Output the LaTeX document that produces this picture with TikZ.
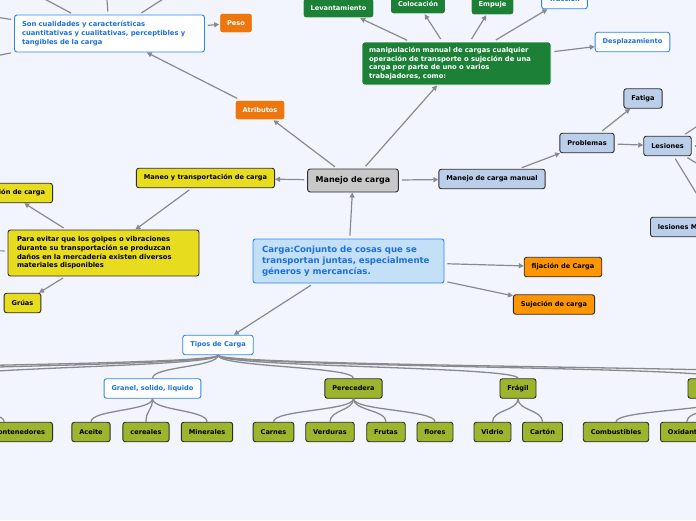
\documentclass[tikz,border=0pt]{standalone}
\usepackage{fontspec}
\setmainfont{DejaVu Sans}
\usetikzlibrary{arrows.meta}

\definecolor{bg}{RGB}{243,245,254}
\definecolor{edge}{RGB}{138,138,142}
\definecolor{frame}{RGB}{45,45,45}
\definecolor{bluetxt}{RGB}{28,112,222}
\definecolor{blueframe}{RGB}{45,135,235}
\definecolor{cargafill}{RGB}{196,224,246}
\definecolor{attrorange}{RGB}{238,118,14}
\definecolor{fixorange}{RGB}{255,150,0}
\definecolor{movegreen}{RGB}{28,128,54}
\definecolor{yellowfill}{RGB}{232,220,30}
\definecolor{lightblue}{RGB}{188,207,234}
\definecolor{greyfill}{RGB}{200,200,200}
\definecolor{olive}{RGB}{155,181,44}

\tikzset{
  box/.style={rounded corners=2.5pt, inner xsep=7.5pt, inner ysep=2pt, minimum height=19.5pt,
    line width=0.9pt, font=\bfseries\fontsize{6.6}{8.5}\selectfont},
  darkbox/.style={box, draw=frame, text=black},
  whitebox/.style={box, draw=blueframe, fill=white, text=bluetxt},
  attrbox/.style={box, draw=white, fill=attrorange, text=white},
  fixbox/.style={darkbox, fill=fixorange},
  movebox/.style={box, draw=white, fill=movegreen, text=white},
  yellowbox/.style={darkbox, fill=yellowfill},
  bluebox/.style={darkbox, fill=lightblue},
  olivebox/.style={darkbox, fill=olive},
  longtext/.style={align=left, inner ysep=1pt, font=\bfseries\fontsize{6.8}{8.6}\selectfont},
  link/.style={draw=edge, line width=1.2pt, -{Triangle[length=5pt,width=5pt]}, shorten <=3pt},
  branch/.style={draw=edge, line width=1.3pt},
}

\begin{document}
\begin{tikzpicture}[x=1pt, y=-1pt]

	\fill[bg] (0,0) rectangle (696,520);
	\useasboundingbox (0,0) rectangle (696,520);
	\clip (0,0) rectangle (696,520);

	% Centre
	\node[darkbox, fill=greyfill, inner xsep=8pt, minimum height=23pt, font=\bfseries\fontsize{8}{9}\selectfont] (manejo) at (353,180.5) {Manejo de carga};
	\node[box, draw=blueframe, fill=cargafill, text=bluetxt, longtext, text width=173pt, inner xsep=9pt, minimum height=44pt, font=\bfseries\fontsize{8.6}{11}\selectfont] (carga) at (348.5,261)
		{Carga:Conjunto de cosas que se\\ transportan juntas, especialmente\\ géneros y mercancías.};

	% Atributos
	\node[attrbox] (atributos) at (260,110) {Atributos};
	\node[whitebox, longtext, text width=175pt, minimum height=37pt] (cualidades) at (109.5,33.5)
		{Son cualidades y características\\ cuantitativas y cualitativas, perceptibles y\\ tangibles de la carga};
	\node[attrbox] (peso) at (236,23) {Peso};
	\coordinate (attrA) at (-10,-30);
	\coordinate (attrB) at (104,-40);
	\coordinate (attrC) at (188,-17);
	\coordinate (attrD) at (-40,12);
	\coordinate (attrE) at (-40,63);

	% Manipulacion manual
	\node[movebox, longtext, text width=175pt, inner xsep=7pt, minimum height=43pt] (manip) at (456.5,63.5)
		{manipulación manual de cargas cualquier\\ operación de transporte o sujeción de una\\ carga por parte de uno o varios\\ trabajadores, como:};
	\node[movebox] (levant) at (338.5,8) {Levantamiento};
	\node[movebox] (coloc) at (418,4) {Colocación};
	\node[movebox] (empuje) at (492.5,5) {Empuje};
	\node[whitebox] (traccion) at (564.5,-1) {Tracción};
	\node[whitebox] (despl) at (632.5,42) {Desplazamiento};

	% Manejo de carga manual
	\node[bluebox] (manual) at (492,179) {Manejo de carga manual};
	\node[bluebox] (problemas) at (587,143) {Problemas};
	\node[bluebox] (fatiga) at (643,98.5) {Fatiga};
	\node[bluebox] (lesiones) at (667.5,146) {Lesiones};
	\node[bluebox, anchor=west] (lesmusc) at (650,227) {lesiones Musculares};
	\coordinate (lesA) at (720,111);
	\coordinate (lesB) at (730,146);
	\coordinate (lesC) at (720,177);
	\coordinate (lesD) at (712,219);

	% Maneo y transportacion
	\node[yellowbox] (maneo) at (205.5,178) {Maneo y transportación de carga};
	\node[yellowbox, longtext, text width=173pt, inner xsep=9pt, minimum height=46pt] (evitar) at (103.5,253)
		{Para evitar que los golpes o vibraciones\\ durante su transportación se produzcan\\ daños en la mercadería existen diversos\\ materiales disponibles};
	\node[yellowbox, anchor=east] (proteccion) at (53,193) {Protección de carga};
	\node[yellowbox] (gruas) at (22.5,303) {Grúas};
	\coordinate (evitarL) at (-40,250);

	% Fijacion / sujecion
	\node[fixbox] (fijacion) at (563,267) {fijación de Carga};
	\node[fixbox] (sujecion) at (554,304.5) {Sujeción de carga};

	% Tipos de carga
	\node[whitebox] (tipos) at (218,345) {Tipos de Carga};
	\node[whitebox] (granel) at (152.5,388.5) {Granel, solido, liquido};
	\node[olivebox] (perecedera) at (353.5,388.5) {Perecedera};
	\node[olivebox] (fragil) at (518,388.5) {Frágil};
	\node[olivebox, minimum width=74pt] (peligrosa) at (725,388.5) {};
	\coordinate (tipoL1) at (-60,379);
	\coordinate (tipoL1b) at (-60,398);
	\coordinate (tipoL2) at (-230,379);
	\coordinate (tipoL3) at (-420,379);
	\coordinate (tipoR2) at (900,379);

	\node[olivebox, anchor=east] (contenedores) at (53,432) {Contenedores};
	\node[olivebox] (aceite) at (91,432) {Aceite};
	\node[olivebox] (cereales) at (146,432) {cereales};
	\node[olivebox] (minerales) at (207,432) {Minerales};
	\node[olivebox] (carnes) at (273.5,432) {Carnes};
	\node[olivebox] (verduras) at (330,432) {Verduras};
	\node[olivebox] (frutas) at (386,432) {Frutas};
	\node[olivebox] (flores) at (435,432) {flores};
	\node[olivebox] (vidrio) at (492.5,432) {Vidrio};
	\node[olivebox] (carton) at (542.5,432) {Cartón};
	\node[olivebox] (combust) at (616,432) {Combustibles};
	\node[olivebox, anchor=west] (oxidantes) at (660,432) {Oxidantes};

	% Arrows
	\draw[link] (carga) -- (manejo);
	\draw[link] (manejo) -- (atributos);
	\draw[link] (manejo) -- (manip);
	\draw[link] (manejo) -- (maneo);
	\draw[link] (manejo) -- (manual);
	\draw[link] (atributos) -- (cualidades);
	\draw[link] (cualidades) -- (peso);
	\draw[link] (cualidades) -- (attrA);
	\draw[link] (cualidades) -- (attrB);
	\draw[link] (cualidades) -- (attrC);
	\draw[link] (cualidades) -- (attrD);
	\draw[link] (cualidades) -- (attrE);
	\draw[link] (manip) -- (levant);
	\draw[link] (manip) -- (coloc);
	\draw[link] (manip) -- (empuje);
	\draw[link] (manip) -- (traccion);
	\draw[link] (manip) -- (despl);
	\draw[link] (manual) -- (problemas);
	\draw[link] (problemas) -- (fatiga);
	\draw[link] (problemas) -- (lesiones);
	\draw[link] (lesiones) -- (lesA);
	\draw[link] (lesiones) -- (lesB);
	\draw[link] (lesiones) -- (lesC);
	\draw[link] (lesiones) -- (lesD);
	\draw[link] (maneo) -- (evitar);
	\draw[link] (evitar) -- (proteccion);
	\draw[link] (evitar) -- (gruas);
	\draw[link] (evitar) -- (evitarL);
	\draw[link] (carga) -- (fijacion);
	\draw[link] (carga) -- (sujecion);
	\draw[link] (carga) -- (tipos);

	% Tree
	\draw[branch] (tipos.south) .. controls +(0,12) and +(0,-12) .. (tipoL3);
	\draw[branch] (tipos.south) .. controls +(0,12) and +(0,-12) .. (tipoL2);
	\draw[branch] (tipos.south) .. controls +(0,12) and +(0,-12) .. (tipoL1);
	\draw[branch] (tipos.south) .. controls +(0,12) and +(0,-12) .. (granel.north);
	\draw[branch] (tipos.south) .. controls +(0,12) and +(0,-12) .. (perecedera.north);
	\draw[branch] (tipos.south) .. controls +(0,12) and +(0,-12) .. (fragil.north);
	\draw[branch] (tipos.south) .. controls +(0,12) and +(0,-12) .. (peligrosa.north);
	\draw[branch] (tipos.south) .. controls +(0,12) and +(0,-12) .. (tipoR2);

	\draw[branch] (tipoL1b) .. controls +(0,12) and +(0,-12) .. ([xshift=-15pt]contenedores.north);
	\draw[branch] (granel.south) .. controls +(0,12) and +(0,-12) .. (aceite.north);
	\draw[branch] (granel.south) .. controls +(0,12) and +(0,-12) .. (cereales.north);
	\draw[branch] (granel.south) .. controls +(0,12) and +(0,-12) .. (minerales.north);
	\draw[branch] (perecedera.south) .. controls +(0,12) and +(0,-12) .. (carnes.north);
	\draw[branch] (perecedera.south) .. controls +(0,12) and +(0,-12) .. (verduras.north);
	\draw[branch] (perecedera.south) .. controls +(0,12) and +(0,-12) .. (frutas.north);
	\draw[branch] (perecedera.south) .. controls +(0,12) and +(0,-12) .. (flores.north);
	\draw[branch] (fragil.south) .. controls +(0,12) and +(0,-12) .. (vidrio.north);
	\draw[branch] (fragil.south) .. controls +(0,12) and +(0,-12) .. (carton.north);
	\draw[branch] (peligrosa.south) .. controls +(0,12) and +(0,-12) .. (combust.north);
	\draw[branch] (peligrosa.south) .. controls +(0,12) and +(0,-12) .. (oxidantes.north);

\end{tikzpicture}
\end{document}
